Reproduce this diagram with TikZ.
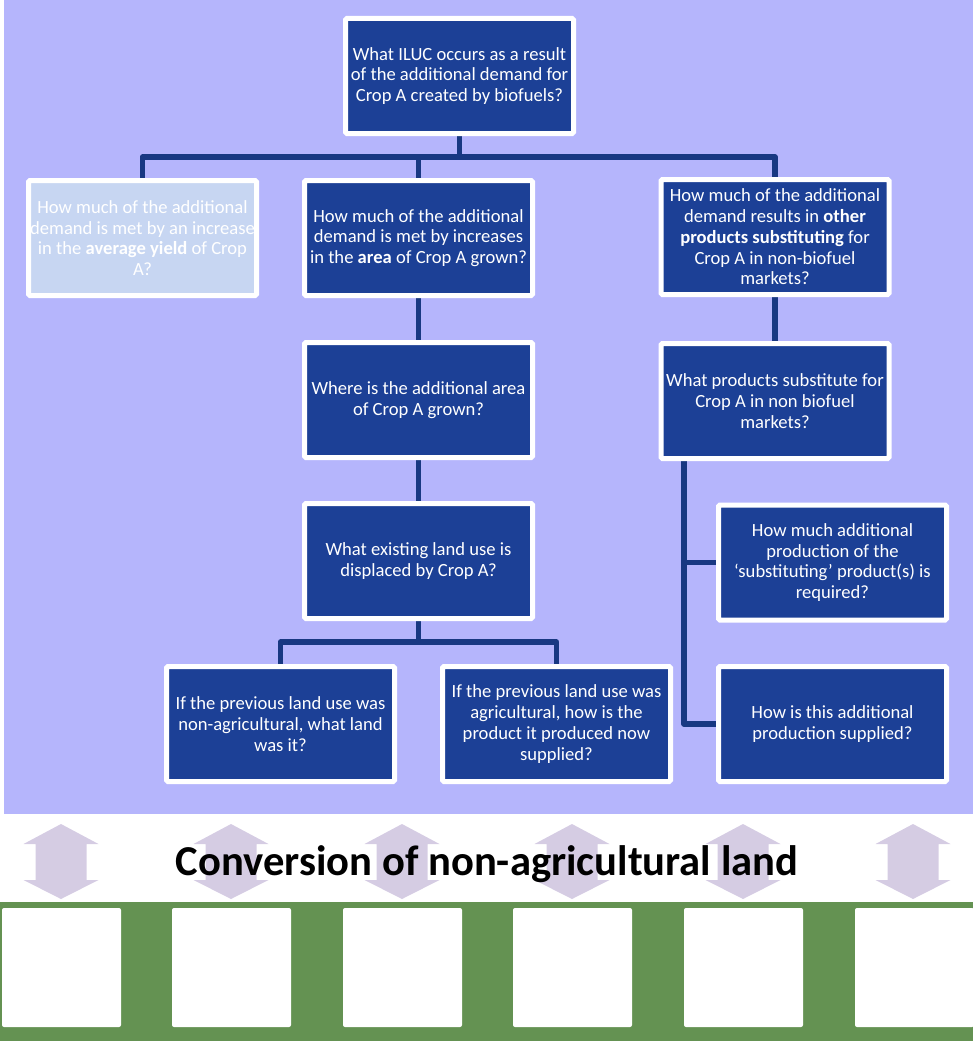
\documentclass[tikz,border=0pt]{standalone}
\usepackage{fontspec}
\setmainfont{Carlito}
\usetikzlibrary{calc}
\pgfdeclarelayer{bg}
\pgfdeclarelayer{wires}
\pgfsetlayers{bg,wires,main}
\definecolor{sky}{RGB}{181,181,252}
\definecolor{navy}{RGB}{28,64,150}
\definecolor{linknavy}{RGB}{24,56,130}
\definecolor{pale}{RGB}{199,214,242}
\definecolor{field}{RGB}{100,146,82}
\definecolor{lilac}{RGB}{213,204,227}
\tikzset{
  qbox/.style={draw=white, line width=5pt, rounded corners=1.5pt, fill=navy,
    text=white, align=center, minimum width=228pt, minimum height=115pt,
    inner sep=0pt, font=\fontsize{18.6}{20.7}\selectfont},
  fadedbox/.style={qbox, fill=pale},
  link/.style={draw=linknavy, line width=5.5pt, line join=round, line cap=round},
  plot/.style={fill=white, rounded corners=2pt},
  dblarrow/.style={fill=lilac}
}
\begin{document}
\begin{tikzpicture}[x=1pt,y=-1pt]
\useasboundingbox (0,0) rectangle (973,1041);
% background bands
\begin{pgfonlayer}{bg}
\fill[sky] (4,0) rectangle (973,814);
\fill[field] (0,902) rectangle (973,1041);
\end{pgfonlayer}

% question boxes
\node[qbox] (q0) at (459.5,76) {What ILUC occurs as a result\\of the additional demand for\\Crop A created by biofuels?};
\node[fadedbox] (qL) at (142.5,238) {How much of the additional\\demand is met by an increase\\in the \textbf{average yield} of Crop\\A?};
\node[qbox] (qM) at (418.5,238) {How much of the additional\\demand is met by increases\\in the \textbf{area} of Crop A grown?};
\node[qbox] (qR) at (775,237) {How much of the additional\\demand results in \textbf{other}\\\textbf{products substituting} for\\Crop A in non-biofuel\\markets?};
\node[qbox] (qW) at (418.5,400) {Where is the additional area\\of Crop A grown?};
\node[qbox] (qD) at (418.5,561) {What existing land use is\\displaced by Crop A?};
\node[qbox] (qN) at (280.5,724) {If the previous land use was\\non-agricultural, what land\\was it?};
\node[qbox] (qP) at (556.5,724) {If the previous land use was\\agricultural, how is the\\product it produced now\\supplied?};
\node[qbox] (qS) at (775,401) {What products substitute for\\Crop A in non biofuel\\markets?};
\node[qbox] (qA) at (832.5,562.5) {How much additional\\production of the\\‘substituting’ product(s) is\\required?};
\node[qbox] (qB) at (832.5,724) {How is this additional\\production supplied?};

% connectors
\coordinate (bus) at (459.5,157);
\coordinate (bus2) at (418.5,642);
\coordinate (spine) at (684,460);
\begin{pgfonlayer}{wires}
\draw[link] (q0.south) -- (bus);
\draw[link] (qL.north) |- (bus) -| (qR.north);
\draw[link] (qM.north) -- (qM.north |- bus);
\draw[link] (qM.south) -- (qW.north);
\draw[link] (qW.south) -- (qD.north);
\draw[link] (qD.south) -- (bus2);
\draw[link] (qN.north) |- (bus2) -| (qP.north);
\draw[link] (qR.south) -- (qS.north);
\draw[link] (spine) |- (qA.west);
\draw[link] (spine) |- (qB.west);
\end{pgfonlayer}

% up-down arrows between the bands
\foreach \c [count=\i] in {61,231,402,572,743,913}{
  \fill[dblarrow] (\c,824) -- (\c+37.5,844) -- (\c+25.5,844) -- (\c+25.5,880)
    -- (\c+37.5,880) -- (\c,899) -- (\c-37.5,880) -- (\c-25.5,880)
    -- (\c-25.5,844) -- (\c-37.5,844) -- cycle;
}
\node[font=\fontsize{42.6}{50}\selectfont\bfseries, text=black, inner sep=0pt] (title) at (487,864) {Conversion of non-agricultural land};

% plots of land
\foreach \x [count=\i] in {2,172,343,513,684,855}{
  \fill[plot] (\x,908) rectangle (\x+119,1027);
}
\end{tikzpicture}
\end{document}
